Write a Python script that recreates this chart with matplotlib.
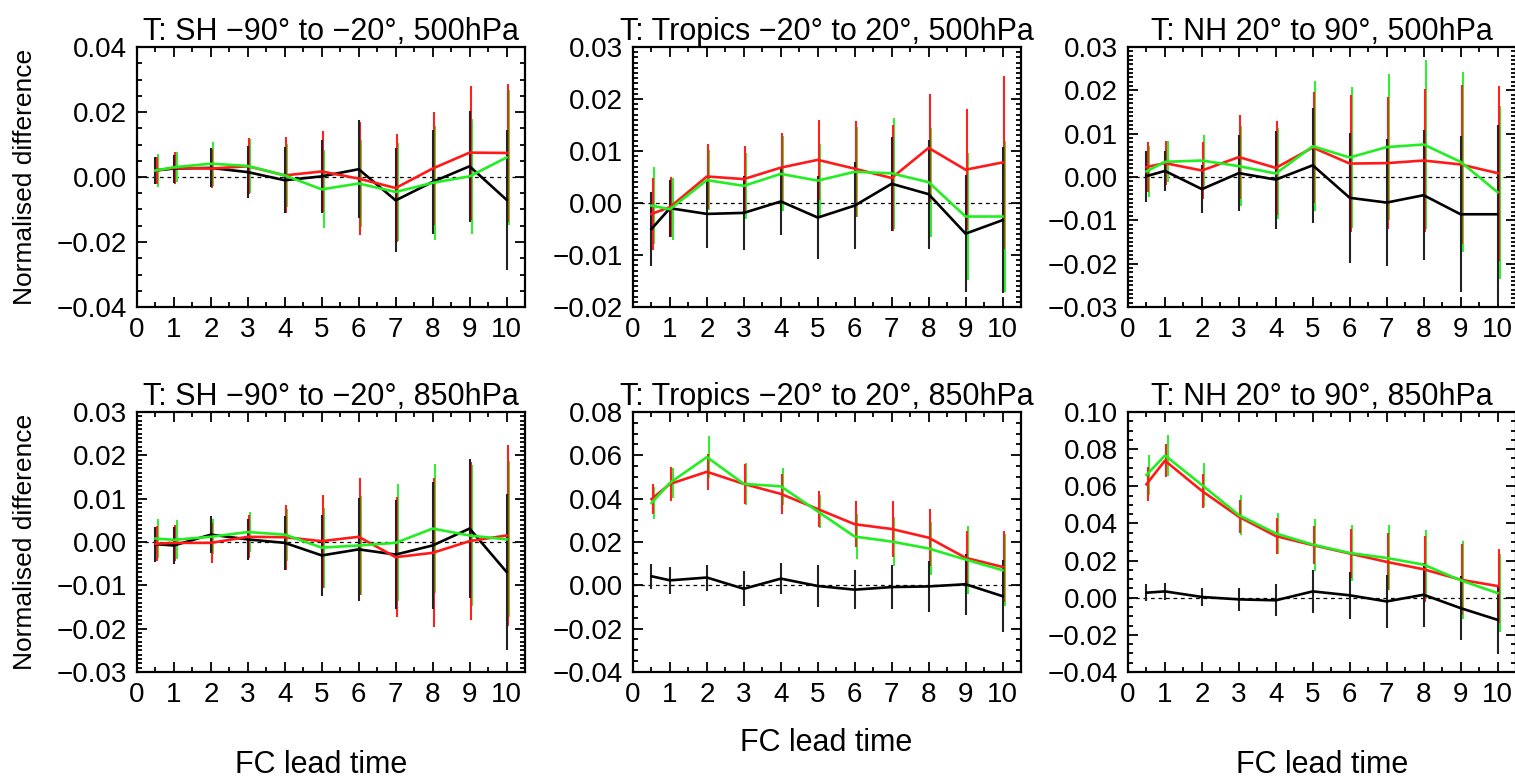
import matplotlib
matplotlib.use("Agg")
import matplotlib.pyplot as plt
from matplotlib.ticker import MultipleLocator, FuncFormatter

plt.rcParams['font.family'] = ['Liberation Sans', 'DejaVu Sans']

# lead times
lead = [0.5, 1, 2, 3, 4, 5, 6, 7, 8, 9, 10]

titles = ["T: SH \u221290\u00b0 to \u221220\u00b0, 500hPa",
          "T: Tropics \u221220\u00b0 to 20\u00b0, 500hPa",
          "T: NH 20\u00b0 to 90\u00b0, 500hPa",
          "T: SH \u221290\u00b0 to \u221220\u00b0, 850hPa",
          "T: Tropics \u221220\u00b0 to 20\u00b0, 850hPa",
          "T: NH 20\u00b0 to 90\u00b0, 850hPa"]

# SH 500hPa
sh500_black = [0.0020, 0.0026, 0.0028, 0.0015, -0.0010, 0.0002, 0.0024, -0.0072, -0.0015, 0.0033, -0.0070]
sh500_black_err = [0.0043, 0.0043, 0.0060, 0.0080, 0.0102, 0.0112, 0.0150, 0.0160, 0.0160, 0.0170, 0.0215]
sh500_red = [0.0020, 0.0028, 0.0026, 0.0033, 0.0005, 0.0017, -0.0005, -0.0034, 0.0026, 0.0075, 0.0074]
sh500_red_err = [0.0043, 0.0048, 0.0060, 0.0086, 0.0117, 0.0126, 0.0174, 0.0166, 0.0173, 0.0206, 0.0213]
sh500_green = [0.0020, 0.0030, 0.0041, 0.0034, 0.0005, -0.0038, -0.0020, -0.0046, -0.0018, 0.0002, 0.0060]
sh500_green_err = [0.0050, 0.0046, 0.0068, 0.0082, 0.0097, 0.0120, 0.0135, 0.0150, 0.0175, 0.0178, 0.0207]

# Tropics 500hPa
tr500_black = [-0.0050, -0.0010, -0.0021, -0.0019, 0.0003, -0.0028, -0.0005, 0.0037, 0.0017, -0.0059, -0.0033]
tr500_black_err = [0.0072, 0.0055, 0.0065, 0.0071, 0.0065, 0.0080, 0.0084, 0.0090, 0.0105, 0.0113, 0.0140]
tr500_red = [-0.0021, -0.0008, 0.0051, 0.0046, 0.0068, 0.0083, 0.0066, 0.0048, 0.0106, 0.0064, 0.0078]
tr500_red_err = [0.0069, 0.0058, 0.0062, 0.0063, 0.0066, 0.0077, 0.0092, 0.0102, 0.0104, 0.0116, 0.0167]
tr500_green = [-0.0005, -0.0012, 0.0044, 0.0033, 0.0056, 0.0043, 0.0060, 0.0057, 0.0040, -0.0026, -0.0026]
tr500_green_err = [0.0074, 0.0060, 0.0057, 0.0064, 0.0072, 0.0071, 0.0087, 0.0107, 0.0105, 0.0122, 0.0145]

# NH 500hPa
nh500_black = [0.0002, 0.0014, -0.0028, 0.0009, -0.0006, 0.0027, -0.0048, -0.0059, -0.0042, -0.0086, -0.0086]
nh500_black_err = [0.0059, 0.0047, 0.0056, 0.0087, 0.0113, 0.0133, 0.0150, 0.0146, 0.0150, 0.0180, 0.0205]
nh500_red = [0.0023, 0.0032, 0.0015, 0.0046, 0.0021, 0.0068, 0.0031, 0.0032, 0.0038, 0.0029, 0.0009]
nh500_red_err = [0.0058, 0.0050, 0.0065, 0.0096, 0.0108, 0.0129, 0.0159, 0.0152, 0.0165, 0.0183, 0.0202]
nh500_green = [0.0013, 0.0035, 0.0038, 0.0025, 0.0008, 0.0071, 0.0045, 0.0069, 0.0075, 0.0035, -0.0035]
nh500_green_err = [0.0058, 0.0047, 0.0058, 0.0093, 0.0106, 0.0150, 0.0163, 0.0169, 0.0194, 0.0208, 0.0200]

# SH 850hPa
sh850_black = [-0.0005, -0.0008, 0.0017, 0.0006, -0.0002, -0.0031, -0.0017, -0.0029, -0.0008, 0.0031, -0.0069]
sh850_black_err = [0.0040, 0.0042, 0.0042, 0.0048, 0.0063, 0.0094, 0.0118, 0.0125, 0.0146, 0.0160, 0.0180]
sh850_red = [-0.0004, -0.0002, -0.0002, 0.0012, 0.0011, 0.0002, 0.0012, -0.0035, -0.0025, 0.0002, 0.0015]
sh850_red_err = [0.0040, 0.0042, 0.0046, 0.0050, 0.0075, 0.0107, 0.0135, 0.0138, 0.0172, 0.0183, 0.0208]
sh850_green = [0.0008, 0.0005, 0.0012, 0.0023, 0.0017, -0.0013, -0.0008, -0.0002, 0.0031, 0.0015, 0.0006]
sh850_green_err = [0.0044, 0.0045, 0.0040, 0.0046, 0.0060, 0.0092, 0.0114, 0.0135, 0.0149, 0.0162, 0.0180]

# Tropics 850hPa
tr850_black = [0.0042, 0.0023, 0.0036, -0.0016, 0.0031, -0.0003, -0.0020, -0.0008, -0.0005, 0.0005, -0.0050]
tr850_black_err = [0.0058, 0.0062, 0.0060, 0.0081, 0.0071, 0.0095, 0.0090, 0.0102, 0.0116, 0.0140, 0.0165]
tr850_red = [0.0398, 0.0468, 0.0524, 0.0468, 0.0422, 0.0352, 0.0282, 0.0260, 0.0220, 0.0127, 0.0085]
tr850_red_err = [0.0071, 0.0078, 0.0083, 0.0093, 0.0091, 0.0082, 0.0105, 0.0128, 0.0133, 0.0124, 0.0164]
tr850_green = [0.0380, 0.0473, 0.0592, 0.0468, 0.0457, 0.0341, 0.0225, 0.0202, 0.0170, 0.0119, 0.0070]
tr850_green_err = [0.0076, 0.0070, 0.0097, 0.0095, 0.0085, 0.0078, 0.0102, 0.0112, 0.0124, 0.0157, 0.0167]

# NH 850hPa
nh850_black = [0.0027, 0.0034, 0.0004, -0.0009, -0.0014, 0.0034, 0.0013, -0.0020, 0.0016, -0.0056, -0.0119]
nh850_black_err = [0.0045, 0.0045, 0.0051, 0.0063, 0.0086, 0.0117, 0.0126, 0.0144, 0.0171, 0.0171, 0.0185]
nh850_red = [0.0611, 0.0738, 0.0575, 0.0436, 0.0332, 0.0283, 0.0238, 0.0193, 0.0153, 0.0097, 0.0063]
nh850_red_err = [0.0092, 0.0087, 0.0090, 0.0090, 0.0096, 0.0104, 0.0132, 0.0153, 0.0177, 0.0192, 0.0198]
nh850_green = [0.0661, 0.0766, 0.0607, 0.0445, 0.0346, 0.0286, 0.0241, 0.0214, 0.0178, 0.0094, 0.0025]
nh850_green_err = [0.0110, 0.0110, 0.0117, 0.0106, 0.0111, 0.0140, 0.0153, 0.0175, 0.0185, 0.0209, 0.0212]

panels = [
    (sh500_black, sh500_black_err, sh500_red, sh500_red_err, sh500_green, sh500_green_err),
    (tr500_black, tr500_black_err, tr500_red, tr500_red_err, tr500_green, tr500_green_err),
    (nh500_black, nh500_black_err, nh500_red, nh500_red_err, nh500_green, nh500_green_err),
    (sh850_black, sh850_black_err, sh850_red, sh850_red_err, sh850_green, sh850_green_err),
    (tr850_black, tr850_black_err, tr850_red, tr850_red_err, tr850_green, tr850_green_err),
    (nh850_black, nh850_black_err, nh850_red, nh850_red_err, nh850_green, nh850_green_err),
]

# y limits, major step, minor step
ylims = [(-0.04, 0.04, 0.02, 0.005), (-0.02, 0.03, 0.01, 0.001), (-0.03, 0.03, 0.01, 0.001),
         (-0.03, 0.03, 0.01, 0.001), (-0.04, 0.08, 0.02, 0.005), (-0.04, 0.10, 0.02, 0.005)]

W, H = 1515, 778
fig = plt.figure(figsize=(W / 100, H / 100), dpi=100)

col_left = [137, 633, 1128]
row_top = [47, 412]
aw, ah = 388, 260

minus = lambda v, p: ("%.2f" % v).replace("-", "\u2212")

for i, (blk, blk_e, red, red_e, grn, grn_e) in enumerate(panels):
    r, c = divmod(i, 3)
    left = col_left[c]
    top = row_top[r]
    ax = fig.add_axes([left / W, 1 - (top + ah) / H, aw / W, ah / H])

    ax.axhline(0, color='black', lw=0.9, ls=(0, (3, 3)), zorder=1)

    # error bars, slightly offset like the original
    ax.vlines([x + 0.07 for x in lead], [v - e for v, e in zip(grn, grn_e)],
              [v + e for v, e in zip(grn, grn_e)], color='#33ee33', lw=1.5, zorder=2)
    ax.vlines([x + 0.035 for x in lead], [v - e for v, e in zip(red, red_e)],
              [v + e for v, e in zip(red, red_e)], color='#ff2020', lw=1.5, zorder=3)
    ax.vlines(lead, [v - e for v, e in zip(blk, blk_e)],
              [v + e for v, e in zip(blk, blk_e)], color='#222222', lw=1.5, zorder=4)

    ax.plot(lead, blk, color='black', lw=1.9, zorder=5)
    ax.plot(lead, red, color='#ff1a1a', lw=1.9, zorder=6)
    ax.plot(lead, grn, color='#22ee22', lw=1.9, zorder=7)

    lo, hi, maj, mnr = ylims[i]
    ax.set_ylim(lo, hi)
    ax.set_xlim(0, 10.5)
    ax.set_xticks(range(0, 11))
    ax.xaxis.set_minor_locator(MultipleLocator(0.5))
    ax.yaxis.set_major_locator(MultipleLocator(maj))
    ax.yaxis.set_minor_locator(MultipleLocator(mnr))
    ax.yaxis.set_major_formatter(FuncFormatter(minus))

    ax.tick_params(which='both', direction='in', top=True, right=True, width=1.3,
                   labelsize=20, pad=7)
    ax.tick_params(which='major', length=7)
    ax.tick_params(which='minor', length=3.5)
    for s in ax.spines.values():
        s.set_linewidth(1.6)

    ax.set_title(titles[i], fontsize=22, pad=5)
    if c == 0:
        ax.set_ylabel("Normalised difference", fontsize=19)
        ax.yaxis.set_label_coords(-0.258, 0.5)

# x axis labels under each column
fig.text(321 / W, 1 - 765 / H, "FC lead time", ha='center', va='center', fontsize=22)
fig.text(826 / W, 1 - 743 / H, "FC lead time", ha='center', va='center', fontsize=22)
fig.text(1322 / W, 1 - 765 / H, "FC lead time", ha='center', va='center', fontsize=22)

fig.savefig("out.png", dpi=100)
